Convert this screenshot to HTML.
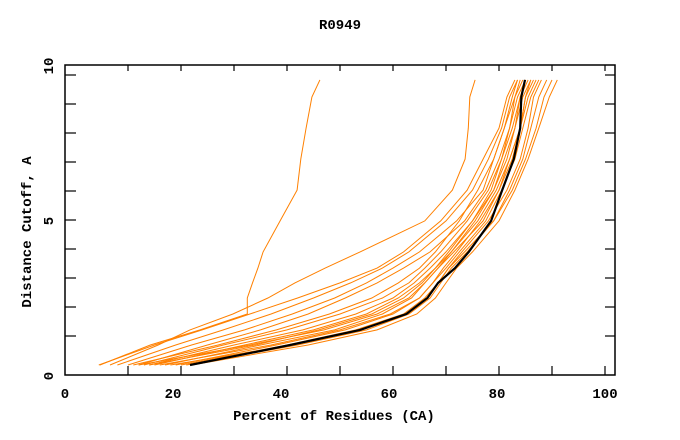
<!DOCTYPE html>
<html><head><meta charset="utf-8"><style>
body{margin:0;background:#fff}
svg{display:block}
text{font-family:"Liberation Mono",monospace;font-weight:bold;font-size:14px;fill:#000}
</style></head><body>
<svg id="chart" width="680" height="440">
<text x="340" y="29" text-anchor="middle">R0949</text>
<rect x="65" y="65" width="550" height="310" fill="none" stroke="#000" stroke-width="1.5"/>
<g id="ticks"></g>
<g id="series"></g>
<text x="334" y="420" text-anchor="middle">Percent of Residues (CA)</text>
<text transform="translate(31,232) rotate(-90)" text-anchor="middle">Distance Cutoff, A</text>
</svg>
<script>
const cutoffs=[0,0.69,1.21,1.76,2.31,2.83,3.34,3.9,4.97,6.03,7.1,8.17,9.24,9.83];
const xTickLabels=["0","20","40","60","80","100"];
const yTickLabels=["0","5","10"];
const orangeSeries=[
[4.7,14.2,23.6,32.5,32.5,33.5,34.5,35.5,38.7,41.9,42.6,43.6,44.7,46.2],
[6.6,15.7,21.7,29.8,36.4,41.5,47.2,53.8,66,71.2,73.6,74.2,74.5,75.5],
[4.5,15,24,33,42,50,57,62,69,74,77,80,81.5,83],
[8,19,28,37,45,52,58,63,70,75,78,80.5,82,83.5],
[10,22,32,41,49,55,60,65,72,77,79,81,83,84.5],
[12,25,35,44,51,57,62,67,73.5,77.5,80,82,83.5,85],
[13,28,40,50,58,63,66,69,74,78,80.5,82.5,84,85.5],
[14,30,43,53,60,64,67,70,75,79,81.5,83,84.5,86],
[15,32,45,55,61,65,68,71,76,79.5,82,84,85,86.5],
[12,33,47,57,63,66,68.5,71,75.5,79,81,83,84,85],
[17,35,49,58,63.5,66,68.5,71.5,77,80,82,84,85.5,87],
[19,38,51,60,65,67.5,70,72.5,77.5,80.5,83,84.5,86,87.5],
[20,40,53,62,66,68.5,70.5,73,78,81.5,84,85.5,86.5,88],
[21,42,55,63,67,69,71,74,79,82,84.5,86,87.5,89],
[22,44,57,64.5,68,70,72,75,80,83,85.5,87.5,89.5,91],
[18,41,54,62.5,66.5,68.5,70.5,73.5,79,82.5,85,87,88.5,90],
[16,37,50,59.5,65,67.5,69.5,72,76.5,80,82.5,84,85,86],
[14,34,46,56,62,65.5,68,70.5,75,78.5,80.5,82,83,84],
[11,27,38,48,56,61,65,68,72.5,76,79,81,82.5,83.5]
];
const blackSeries=[21.7,40.6,53.8,62.5,66.5,68.5,71.7,74.3,78.5,80.6,82.8,84,84.2,84.9];

const NS="http://www.w3.org/2000/svg";
const xs=v=>75+5.3*v;
const ys=v=>365-29*v;
const tg=document.getElementById('ticks');
const sg=document.getElementById('series');
function mk(tag,attrs,parent){const e=document.createElementNS(NS,tag);for(const k in attrs)e.setAttribute(k,attrs[k]);parent.appendChild(e);return e;}
for(let k=1;k<=10;k++){
  const x=xs(k*10);
  const t1=mk('line',{x1:x,x2:x,y1:375,y2:366,stroke:'#000','stroke-width':1.2},tg);
  
  
  const t2=mk('line',{x1:x,x2:x,y1:65,y2:71,stroke:'#000','stroke-width':1.2},tg);
  
  
}
for(let k=1;k<=10;k++){
  const y=ys(k);
  const t1=mk('line',{x1:65,x2:76,y1:y,y2:y,stroke:'#000','stroke-width':1.2},tg);
  
  
  const t2=mk('line',{x1:615,x2:605,y1:y,y2:y,stroke:'#000','stroke-width':1.2},tg);
  
  
}
xTickLabels.forEach((l,i)=>{
  const t=mk('text',{x:65+108*i,y:398,'text-anchor':'middle'},tg);
  t.textContent=l;
  
  
});
yTickLabels.forEach((l,i)=>{
  const y=376-155*i;
  const t=mk('text',{transform:`translate(53,${y}) rotate(-90)`,'text-anchor':'middle'},tg);
  t.textContent=l;
  
  
});
function pts(arr){return arr.map((v,i)=>xs(v).toFixed(1)+','+ys(cutoffs[i]).toFixed(1)).join(' ');}
orangeSeries.forEach(s=>{
  const p=mk('polyline',{points:pts(s),fill:'none',stroke:'#ff8000','stroke-width':1},sg);
  
  
});
const b=mk('polyline',{points:pts(blackSeries),fill:'none',stroke:'#000','stroke-width':2.2},sg);


</script>
</body></html>
